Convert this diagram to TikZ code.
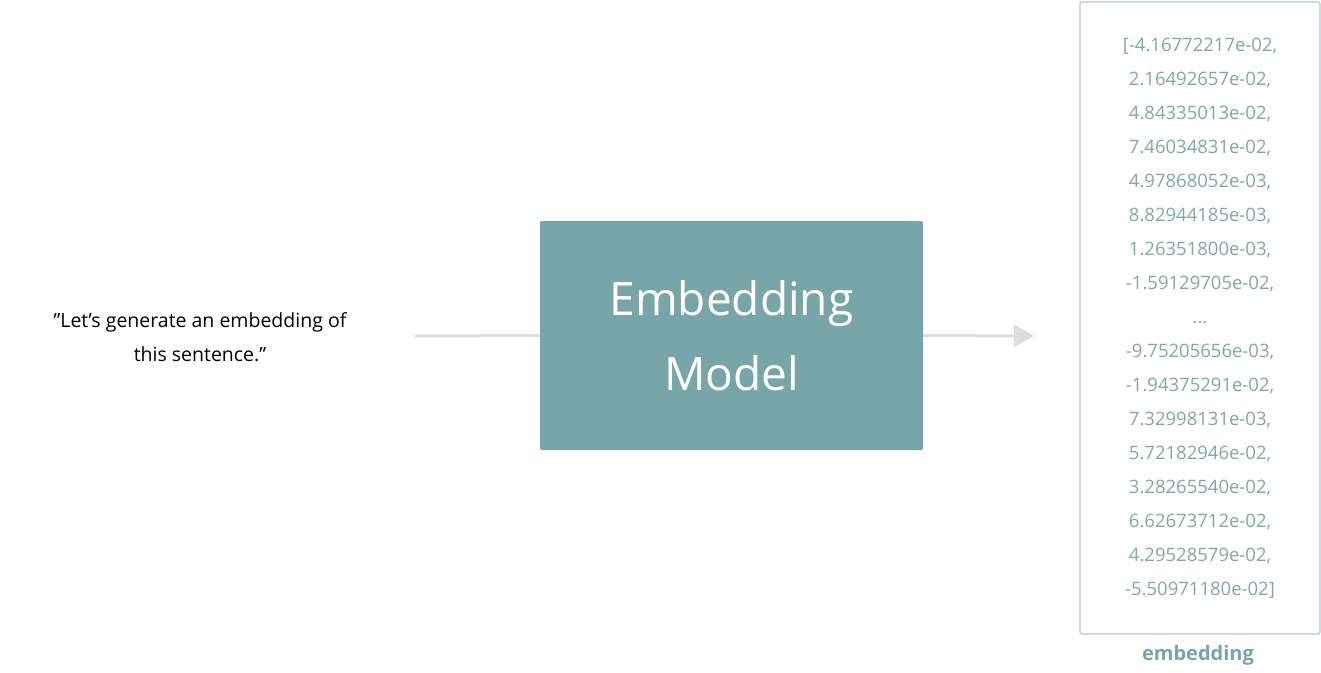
\documentclass[tikz,border=0pt]{standalone}
\usepackage{fontspec}
\setmainfont{Open Sans}
\usetikzlibrary{arrows.meta}
\definecolor{teal1}{HTML}{78A6A8}
\definecolor{teal2}{HTML}{7FA8AA}
\definecolor{arr}{HTML}{DDDDDD}
\tikzset{
  model/.style={fill=teal1,draw=none,rounded corners=2pt,minimum width=383pt,minimum height=229pt,text=white,font=\fontsize{46}{75}\selectfont,align=center,inner sep=0pt},
  vec/.style={draw=teal1!60,line width=1.2pt,rounded corners=2pt,minimum width=240pt,minimum height=632pt,text=teal2,font=\fontsize{18.5}{34}\selectfont,align=center,inner sep=0pt},
  conn/.style={draw=arr,line width=3pt},
}
\begin{document}
\begin{tikzpicture}[x=1pt,y=-1pt]
\useasboundingbox (0,0) rectangle (1321,672);
\node[font=\fontsize{19.5}{34}\selectfont,align=center] (in) at (200,337) {"Let’s generate an embedding of\\this sentence."};
\node[model] (m) at (731.5,335.5) {Embedding\\Model};
\node[vec] (v) at (1200,318) {[-4.16772217e-02,\\2.16492657e-02,\\4.84335013e-02,\\7.46034831e-02,\\4.97868052e-03,\\8.82944185e-03,\\1.26351800e-03,\\-1.59129705e-02,\\...\\-9.75205656e-03,\\-1.94375291e-02,\\7.32998131e-03,\\5.72182946e-02,\\3.28265540e-02,\\6.62673712e-02,\\4.29528579e-02,\\-5.50971180e-02]};
\node[text=teal1,font=\fontsize{20}{24}\selectfont\bfseries] (lbl) at (1198,655) {embedding};
\coordinate (s) at (415,336);
\coordinate (e) at (1034,336);
\draw[conn] (s) -- (m.west);
\draw[conn,-{Triangle[length=20pt,width=22pt]}] (m.east) -- (e);
\end{tikzpicture}
\end{document}
